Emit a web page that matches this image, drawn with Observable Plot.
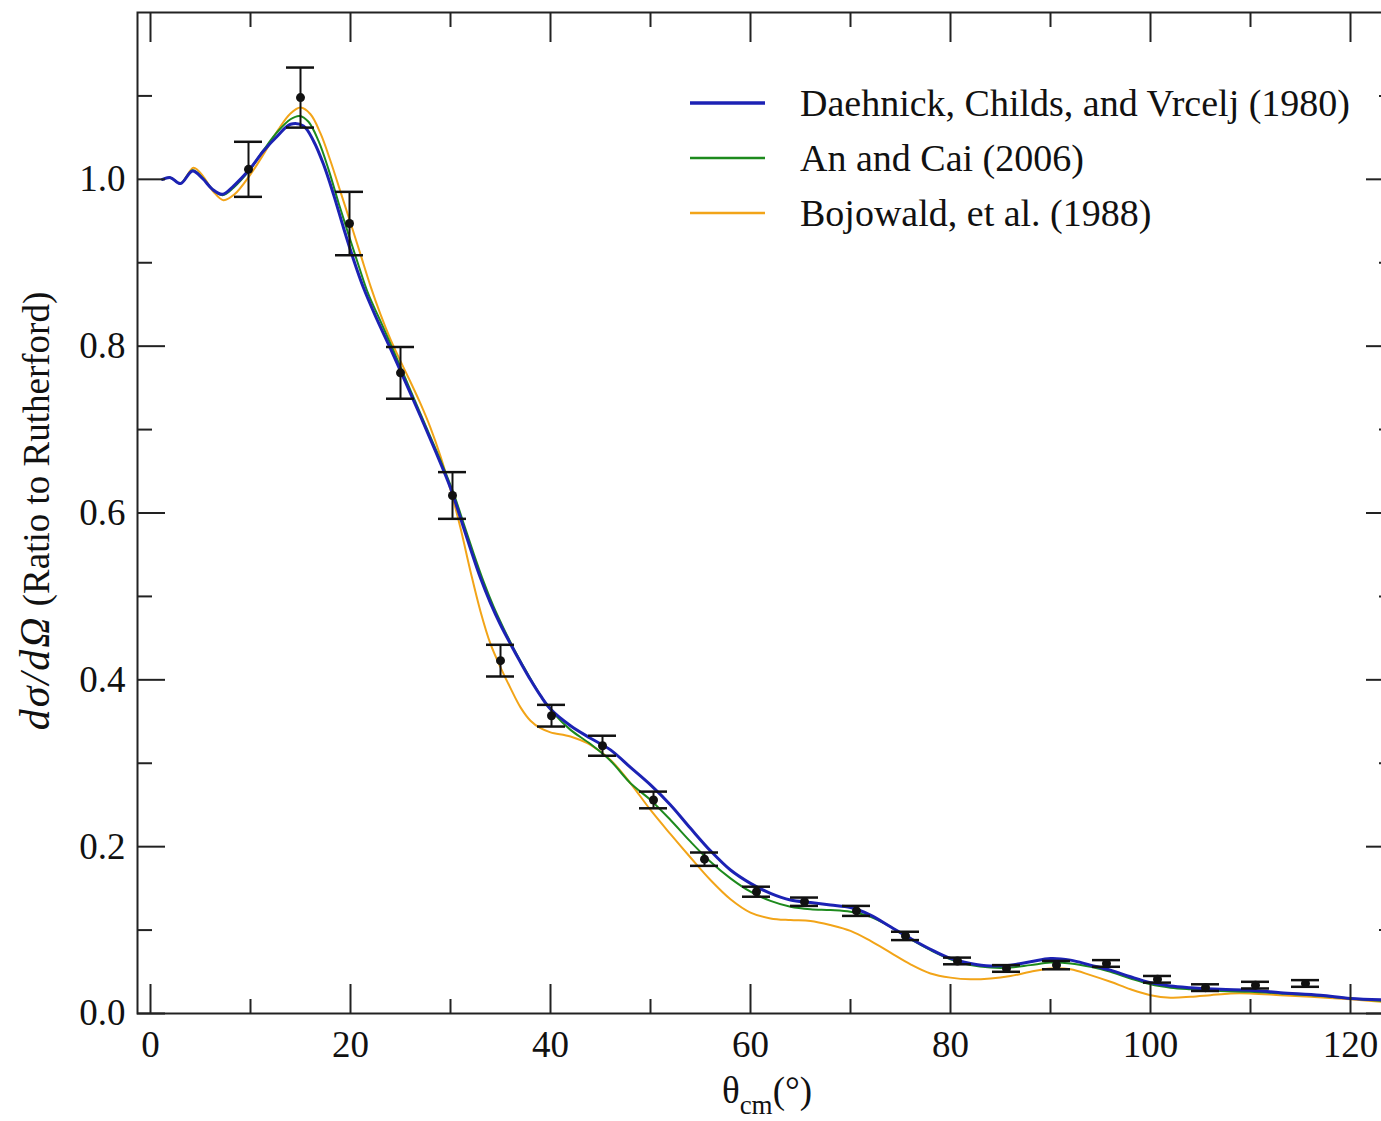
<!DOCTYPE html>
<html><head><meta charset="utf-8">
<script src="https://cdn.jsdelivr.net/npm/d3@7"></script>
<script src="https://cdn.jsdelivr.net/npm/@observablehq/plot@0.6"></script>
<style>
body{margin:0;background:#fff;overflow:hidden}
#wrap{width:1381px;height:1121px;overflow:hidden;position:relative;background:#fff}
</style></head><body><div id="wrap"></div>
<script>
// Experimental data
const expTheta = [9.8,15.0,19.9,25.0,30.2,35.0,40.1,45.2,50.3,55.4,60.6,65.4,70.6,75.5,80.7,85.6,90.6,95.6,100.7,105.5,110.5,115.5];
const expRatio = [1.012,1.098,0.947,0.768,0.621,0.423,0.357,0.321,0.256,0.185,0.146,0.134,0.123,0.093,0.063,0.054,0.058,0.060,0.041,0.031,0.034,0.036];
const expErr   = [0.033,0.036,0.038,0.031,0.028,0.019,0.013,0.012,0.010,0.008,0.006,0.005,0.006,0.005,0.004,0.004,0.005,0.004,0.004,0.004,0.004,0.004];

// Daehnick, Childs, and Vrcelj (1980)
const daehnickTheta = [1.2,2,3,4.2,5.2,6.2,7.2,8.3,9.9,11.3,12.7,14,15.3,16.3,17.3,18.3,19.3,20.3,21.3,22.5,24,25.5,27,28.5,30,31,32,33,34,35,36,37,38,39,40,42,44,46,48,50,52,54,56,58,60,62,64,66,68,70,72,74,76,78,80,82,84,86,88,90,92,94,96,98,100,102,104,107,110,113,117,120,124.3];
const daehnickRatio = [1.0,1.002,0.995,1.010,1.001,0.988,0.982,0.992,1.012,1.034,1.052,1.066,1.064,1.046,1.018,0.982,0.942,0.904,0.870,0.836,0.797,0.757,0.716,0.674,0.630,0.594,0.557,0.522,0.492,0.466,0.443,0.421,0.400,0.381,0.365,0.345,0.330,0.316,0.295,0.274,0.250,0.222,0.195,0.172,0.156,0.144,0.136,0.133,0.130,0.127,0.118,0.104,0.090,0.077,0.066,0.060,0.057,0.058,0.062,0.066,0.064,0.058,0.052,0.044,0.037,0.033,0.031,0.029,0.028,0.025,0.022,0.018,0.016];

// An and Cai (2006)
const anCaiTheta = [1.2,2,3,4.2,5.2,6.2,7.2,8.3,9.9,11.3,12.7,14,14.9,15.8,16.8,17.8,18.8,19.8,20.8,21.8,23,24.5,26,27.5,29,30.3,31.3,32.3,33.3,34.3,35.3,36.3,37.3,38.3,39.3,40.3,42,44,46,48,50,52,54,56,58,60,62,64,66,68,70,72,74,76,78,80,82,84,86,88,90,92,94,96,98,100,102,104,107,110,113,117,120,124.3];
const anCaiRatio = [1.0,1.002,0.995,1.011,1.002,0.988,0.981,0.990,1.011,1.035,1.057,1.072,1.076,1.069,1.046,1.012,0.972,0.934,0.897,0.862,0.830,0.789,0.747,0.705,0.663,0.624,0.588,0.552,0.518,0.488,0.462,0.438,0.416,0.395,0.376,0.360,0.340,0.323,0.303,0.276,0.256,0.232,0.206,0.182,0.162,0.146,0.135,0.128,0.125,0.124,0.122,0.116,0.104,0.089,0.076,0.065,0.058,0.055,0.055,0.058,0.061,0.060,0.056,0.050,0.042,0.035,0.031,0.029,0.027,0.026,0.024,0.021,0.018,0.014];

// Bojowald, et al. (1988)
const bojowaldTheta = [1.2,2,3,4.3,5.3,6.3,7.3,8.4,10,11.4,12.8,14,15,16,17,18,19,20,21,22,23,24,25,26,27,28,29,30,31,32,33,34,35,36,37,38,39,40,42,44,46,48,50,52,54,56,58,60,62,64,66,68,70,72,74,76,78,80,82,84,86,88,90,92,94,96,98,100,102,104,106,108,110,113,116,120,124.3];
const bojowaldRatio = [1.0,1.002,0.995,1.014,1.003,0.985,0.975,0.982,1.006,1.032,1.060,1.079,1.086,1.078,1.055,1.022,0.985,0.948,0.910,0.872,0.838,0.808,0.782,0.757,0.731,0.702,0.668,0.628,0.582,0.530,0.482,0.443,0.415,0.390,0.367,0.351,0.342,0.337,0.332,0.322,0.304,0.276,0.244,0.215,0.187,0.160,0.137,0.121,0.114,0.112,0.111,0.106,0.099,0.087,0.073,0.059,0.048,0.043,0.041,0.042,0.045,0.050,0.054,0.053,0.046,0.038,0.029,0.022,0.019,0.020,0.022,0.024,0.024,0.022,0.020,0.017,0.013];

const seriesNames = ["Daehnick, Childs, and Vrcelj (1980)", "An and Cai (2006)", "Bojowald, et al. (1988)"];
const seriesColors = ["#1c22b4", "#1d8a1d", "#f2a418"];
const seriesWidths = [3, 2, 2];

const xMajor = [0,20,40,60,80,100,120];
const xMinor = [10,30,50,70,90,110];
const yMajor = [0,0.2,0.4,0.6,0.8,1.0];
const yMinor = [0.1,0.3,0.5,0.7,0.9,1.1];
const yMajorLabels = ["0.0","0.2","0.4","0.6","0.8","1.0"];

const exp = expTheta.map((t,i)=>({theta:t, ratio:expRatio[i], lo:expRatio[i]-expErr[i], hi:expRatio[i]+expErr[i]}));
const curves = [
  daehnickTheta.map((t,i)=>({theta:t, ratio:daehnickRatio[i]})),
  anCaiTheta.map((t,i)=>({theta:t, ratio:anCaiRatio[i]})),
  bojowaldTheta.map((t,i)=>({theta:t, ratio:bojowaldRatio[i]}))
];

const FONT = "'Liberation Serif', 'Times New Roman', serif";
const W = 1393, H = 1121;
const chart = Plot.plot({
  width: W, height: H,
  marginLeft: 137, marginRight: 0, marginTop: 12, marginBottom: 108,
  style: {fontFamily: FONT, background: "#fff", color: "#111", maxWidth: "none"},
  x: {domain: [-1.3, 124.3], label: null},
  y: {domain: [0, 1.2], label: null},
  marks: [
    Plot.line(curves[2], {x:"theta", y:"ratio", stroke: seriesColors[2], strokeWidth: seriesWidths[2], curve:"catmull-rom"}),
    Plot.line(curves[1], {x:"theta", y:"ratio", stroke: seriesColors[1], strokeWidth: seriesWidths[1], curve:"catmull-rom"}),
    Plot.line(curves[0], {x:"theta", y:"ratio", stroke: seriesColors[0], strokeWidth: seriesWidths[0], curve:"catmull-rom"}),
    // error bars
    Plot.ruleX(exp, {x:"theta", y1:"lo", y2:"hi", stroke:"#111", strokeWidth:2}),
    Plot.ruleY(exp, {y:"hi", x1:"theta", x2:"theta", insetLeft:-14, insetRight:-14, stroke:"#111", strokeWidth:2.5}),
    Plot.ruleY(exp, {y:"lo", x1:"theta", x2:"theta", insetLeft:-14, insetRight:-14, stroke:"#111", strokeWidth:2.5}),
    Plot.dot(exp, {x:"theta", y:"ratio", r:4.5, fill:"#111", stroke:"none"}),
    // frame
    Plot.frame({stroke:"#222", strokeWidth:2}),
    // inward ticks
    Plot.axisX({anchor:"bottom", ticks:xMajor, tickSize:-29, fill:"none", label:null, strokeWidth:2, stroke:"#222"}),
    Plot.axisX({anchor:"bottom", ticks:xMinor, tickSize:-14, fill:"none", label:null, strokeWidth:2, stroke:"#222"}),
    Plot.axisX({anchor:"top", ticks:xMajor, tickSize:-29, fill:"none", label:null, strokeWidth:2, stroke:"#222"}),
    Plot.axisX({anchor:"top", ticks:xMinor, tickSize:-14, fill:"none", label:null, strokeWidth:2, stroke:"#222"}),
    Plot.axisY({anchor:"left", ticks:yMajor, tickSize:-28, fill:"none", label:null, strokeWidth:2, stroke:"#222"}),
    Plot.axisY({anchor:"left", ticks:yMinor, tickSize:-15, fill:"none", label:null, strokeWidth:2, stroke:"#222"}),
    Plot.axisY({anchor:"right", ticks:yMajor, tickSize:-28, fill:"none", label:null, strokeWidth:2, stroke:"#222"}),
    Plot.axisY({anchor:"right", ticks:yMinor, tickSize:-15, fill:"none", label:null, strokeWidth:2, stroke:"#222"}),
    // tick labels
    Plot.axisX({anchor:"bottom", ticks:xMajor, tickSize:0, tickPadding:17, fontSize:37, label:null, fill:"#111"}),
    Plot.axisY({anchor:"left", ticks:yMajor, tickSize:0, tickPadding:12, fontSize:37, label:null, fill:"#111", tickFormat:(d)=>yMajorLabels[yMajor.indexOf(d)]})
  ]
});

const wrap = document.getElementById("wrap");
wrap.appendChild(chart);
const svg = d3.select(chart);

// legend
const leg = svg.append("g").attr("font-family", FONT).attr("font-size", 38).attr("fill", "#111").attr("text-anchor", "start");
seriesNames.forEach((name, i) => {
  const y = 103 + i * 55;
  leg.append("line").attr("x1", 690).attr("x2", 765).attr("y1", y).attr("y2", y)
    .attr("stroke", seriesColors[i]).attr("stroke-width", seriesWidths[i] + 0.5);
  leg.append("text").attr("x", 800).attr("y", y).attr("dy", "0.33em").text(name);
});

// y-axis label
const yl = svg.append("text").attr("font-family", FONT).attr("font-size", 37).attr("fill", "#111")
  .attr("text-anchor", "middle").attr("transform", "translate(49,511) rotate(-90)");
yl.append("tspan").attr("font-style", "italic").attr("font-size", 42).attr("letter-spacing", 2).text("dσ/dΩ");
yl.append("tspan").text(" (Ratio to Rutherford)");

// x-axis label
const xl = svg.append("text").attr("font-family", FONT).attr("font-size", 37).attr("fill", "#111")
  .attr("text-anchor", "middle").attr("x", 767).attr("y", 1103);
xl.append("tspan").text("θ");
xl.append("tspan").attr("font-size", 27).attr("dy", 11).text("cm");
xl.append("tspan").attr("dy", -11).text("(°)");
</script></body></html>
